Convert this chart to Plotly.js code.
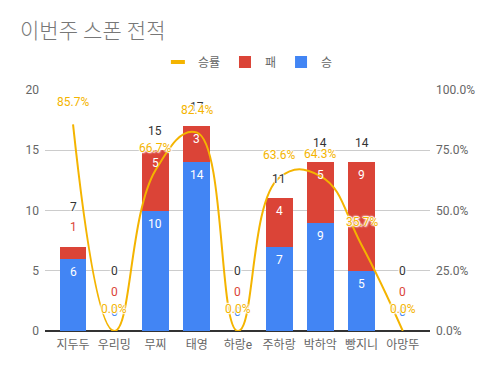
<!DOCTYPE html>
<html>
<head>
<meta charset="utf-8">
<script src="https://cdn.plot.ly/plotly-3.0.1.min.js"></script>
<style>html,body{margin:0;padding:0;background:#fff;}#chart{width:496px;height:371px;}</style>
</head>
<body>
<div id="chart"></div>
<script>
const categories = ['지두두', '우리밍', '무찌', '태영', '하랑e', '주하랑', '박하악', '빵지니', '아망뚜'];
const wins = [6, 0, 10, 14, 0, 7, 9, 5, 0];
const losses = [1, 0, 5, 3, 0, 4, 5, 9, 0];
const winRate = [85.7, 0, 66.7, 82.4, 0, 63.6, 64.3, 35.7, 0];
const leftTicks = [0, 5, 10, 15, 20];
const rightTicks = [0, 25, 50, 75, 100];

const BLUE = '#4285F4', RED = '#DB4437', YELLOW = '#F4B400';
const FONT = "Roboto, 'Noto Sans CJK KR', sans-serif";
const HALO = '1px 0 1px #fff, -1px 0 1px #fff, 0 1px 1px #fff, 0 -1px 1px #fff, 1px 1px 2px #fff, -1px -1px 2px #fff';

const traces = [
  {type: 'bar', name: '승', x: categories, y: wins, marker: {color: BLUE}, width: 0.65, hoverinfo: 'none'},
  {type: 'bar', name: '패', x: categories, y: losses, marker: {color: RED}, width: 0.65, hoverinfo: 'none'},
  {type: 'scatter', mode: 'lines', name: '승률', x: categories, y: winRate, yaxis: 'y2', showlegend: false,
   line: {color: YELLOW, width: 2, shape: 'spline', smoothing: 1.3}, hoverinfo: 'none'},
  {type: 'scatter', mode: 'markers', name: '승률', x: [null], y: [null], yaxis: 'y2', showlegend: true,
   marker: {symbol: 'line-ew', size: 10, color: YELLOW, line: {color: YELLOW, width: 4}}, hoverinfo: 'none'}
];

const ann = [];
const PX_PER_UNIT = 241 / 20;
function add(x, y, text, color, yshift, yref, halo) {
  ann.push({x: x, y: y, xref: 'x', yref: yref || 'y', text: text, showarrow: false,
    yshift: yshift, font: {family: FONT, size: 12, color: color, shadow: halo ? HALO : 'none'}});
}
categories.forEach((c, i) => {
  let k = 0;
  const w = wins[i], l = losses[i], top = w + l;
  if (w * PX_PER_UNIT >= 22) add(c, w, String(w), '#fff', -13);
  else { k++; add(c, w, String(w), BLUE, 19 * k, 'y', true); }
  if (l * PX_PER_UNIT >= 22) add(c, top, String(l), '#fff', -13);
  else { k++; add(c, top, String(l), RED, 20 * k - (w === 0 ? 1 : 0), 'y', true); }
  add(c, top, String(top), '#333', 20 * (k + 1) - (k === 0 ? 1 : 0), 'y', true);
});
categories.forEach((c, i) => {
  add(c, winRate[i], winRate[i].toFixed(1) + '%', YELLOW, 22.5, 'y2', true);
});

const layout = {
  width: 496, height: 371,
  margin: {l: 45, r: 66, t: 90, b: 40},
  paper_bgcolor: '#fff', plot_bgcolor: '#fff',
  font: {family: FONT, size: 12, color: '#666'},
  title: {text: '이번주 스폰 전적', x: 20 / 496, xref: 'container', xanchor: 'left',
    y: 1 - 31 / 371, yref: 'container', yanchor: 'middle',
    font: {family: FONT, size: 21, color: '#777', weight: 300}},
  barmode: 'stack',
  showlegend: true,
  legend: {orientation: 'h', x: 0.527, xanchor: 'center', y: 1.116, yanchor: 'middle',
    traceorder: 'reversed', itemwidth: 30, font: {family: FONT, size: 12, color: '#666'}},
  xaxis: {type: 'category', range: [-0.68, 8.66], showgrid: false, zeroline: false,
    showline: false, ticks: '', ticklabelstandoff: 5,
    tickfont: {family: FONT, size: 12, color: '#666'}, fixedrange: true},
  yaxis: {range: [0, 20], tickvals: leftTicks, ticktext: leftTicks.map(String),
    showgrid: true, gridcolor: '#ccc', gridwidth: 1, zeroline: true, zerolinecolor: '#333', zerolinewidth: 1.5,
    ticks: '', ticklabelstandoff: 5, tickfont: {family: FONT, size: 12, color: '#666'}, fixedrange: true},
  yaxis2: {range: [0, 100], overlaying: 'y', side: 'right', tickvals: rightTicks,
    ticktext: rightTicks.map(v => v.toFixed(1) + '%'), showgrid: false, zeroline: false,
    ticks: '', ticklabelstandoff: 5, tickfont: {family: FONT, size: 12, color: '#666'}, fixedrange: true},
  annotations: ann
};

Plotly.newPlot('chart', traces, layout, {displayModeBar: false, staticPlot: true});
</script>
</body>
</html>
